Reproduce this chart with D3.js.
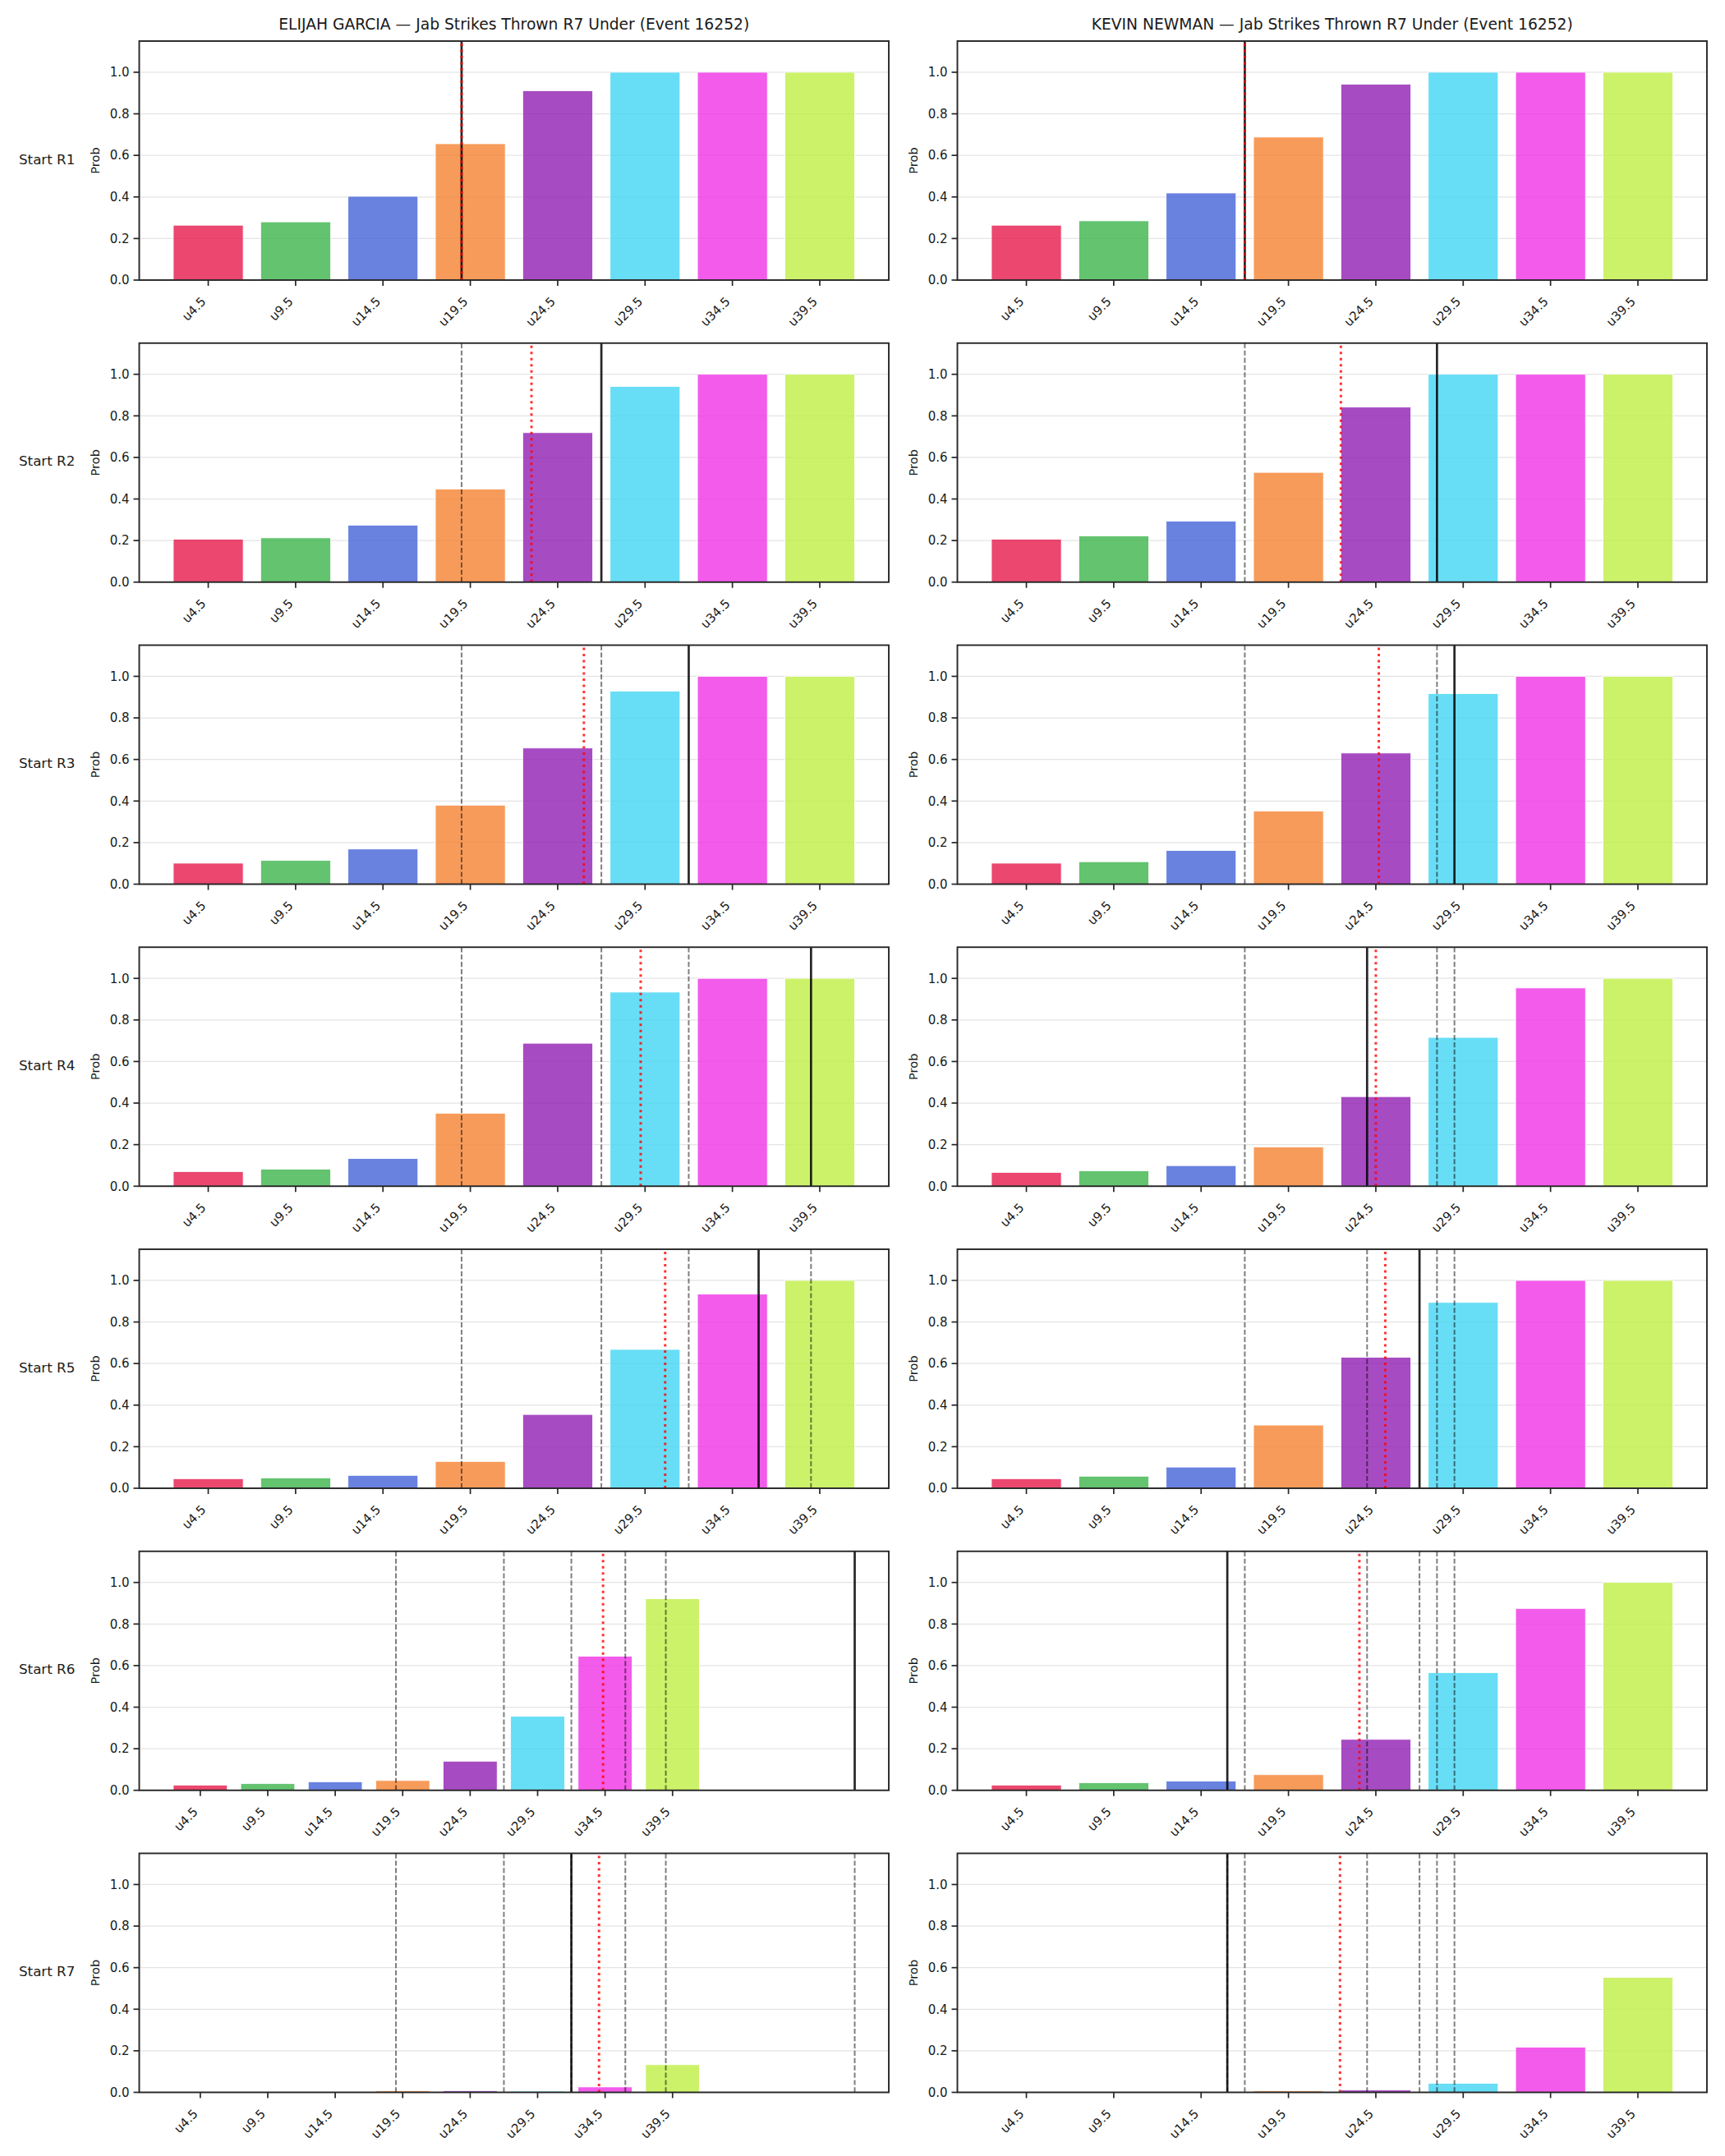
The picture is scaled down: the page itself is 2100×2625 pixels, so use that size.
<!DOCTYPE html>
<html>
<head>
<meta charset="utf-8">
<script src="https://cdn.jsdelivr.net/npm/d3@7"></script>
<style>
  body { margin: 0; background: #fff; }
  svg text { font-family: "DejaVu Sans", sans-serif; fill: #1a1a1a; }
</style>
</head>
<body>
<svg id="chart" width="2100" height="2625"></svg>
<script>
// ── Data ──
const categories = ["u4.5", "u9.5", "u14.5", "u19.5", "u24.5", "u29.5", "u34.5", "u39.5"];
const thresholds = [4.5, 9.5, 14.5, 19.5, 24.5, 29.5, 34.5, 39.5];
const rounds = ["R1", "R2", "R3", "R4", "R5", "R6", "R7"];
const barColors = ["#e6194b", "#3cb44b", "#4363d8", "#f58231", "#911eb4", "#42d4f4", "#f032e6", "#bfef45"];

// P(under) per threshold, one row per starting round
const garciaProbs = [
  [0.264, 0.280, 0.403, 0.656, 0.911, 1.0, 1.0, 1.0],
  [0.206, 0.213, 0.274, 0.448, 0.719, 0.941, 1.0, 1.0],
  [0.101, 0.114, 0.169, 0.380, 0.655, 0.929, 1.0, 1.0],
  [0.070, 0.082, 0.133, 0.351, 0.688, 0.934, 1.0, 1.0],
  [0.046, 0.050, 0.062, 0.129, 0.355, 0.668, 0.934, 1.0],
  [0.025, 0.032, 0.041, 0.047, 0.140, 0.356, 0.645, 0.922],
  [0.0005, 0.001, 0.003, 0.007, 0.007, 0.006, 0.026, 0.133],
];
const newmanProbs = [
  [0.264, 0.285, 0.419, 0.688, 0.942, 1.0, 1.0, 1.0],
  [0.206, 0.222, 0.293, 0.528, 0.842, 1.0, 1.0, 1.0],
  [0.101, 0.108, 0.162, 0.352, 0.631, 0.917, 1.0, 1.0],
  [0.066, 0.074, 0.099, 0.189, 0.431, 0.716, 0.954, 1.0],
  [0.046, 0.058, 0.102, 0.304, 0.630, 0.894, 1.0, 1.0],
  [0.025, 0.036, 0.044, 0.075, 0.245, 0.566, 0.875, 1.0],
  [0.0005, 0.002, 0.003, 0.007, 0.011, 0.043, 0.217, 0.553],
];

// Strike counts marked by the vertical lines (solid = actual, dotted = projected)
const garciaActual = [19, 27, 32, 39, 36, 53, 32];
const garciaProjected = [19, 23, 26, 29.25, 30.65, 34.35, 34.05];
const newmanActual = [17, 28, 29, 24, 27, 16, 16];
const newmanProjected = [17, 22.5, 24.67, 24.5, 25.04, 23.56, 22.45];

const fighters = [
  { name: "ELIJAH GARCIA", probs: garciaProbs, actual: garciaActual, projected: garciaProjected },
  { name: "KEVIN NEWMAN", probs: newmanProbs, actual: newmanActual, projected: newmanProjected },
];

// ── Layout ──
const colLeft = [169.5, 1165.5];
const axisWidth = 912.5;
const firstTop = 50;
const rowStep = 367.75;
const axisHeight = 291;

const svg = d3.select("#chart");

// strike count -> category position (linear through thresholds, extrapolated)
const countToPos = d3.scaleLinear()
  .domain([thresholds[0], thresholds[thresholds.length - 1]])
  .range([0, categories.length - 1]);

fighters.forEach((fighter, col) => {
  const left = colLeft[col];
  const right = left + axisWidth;

  svg.append("text")
    .attr("x", (left + right) / 2)
    .attr("y", firstTop - 14)
    .attr("text-anchor", "middle")
    .attr("font-size", 18.7)
    .text(`${fighter.name} — Jab Strikes Thrown R7 Under (Event 16252)`);

  rounds.forEach((round, row) => {
    const top = firstTop + row * rowStep;
    const bottom = top + axisHeight;
    const values = fighter.probs[row];

    const dashedPos = fighter.actual.slice(0, row).map((c) => countToPos(c));
    const actualPos = countToPos(fighter.actual[row]);
    const projectedPos = countToPos(fighter.projected[row]);

    // autoscale like the original: bars + vertical lines, 5% margins
    const lo = d3.min([-0.4, actualPos, projectedPos, ...dashedPos]);
    const hi = d3.max([categories.length - 0.6, actualPos, projectedPos, ...dashedPos]);
    const pad = (hi - lo) * 0.05;

    const xScale = d3.scaleLinear().domain([lo - pad, hi + pad]).range([left, right]);
    const yScale = d3.scaleLinear().domain([0, 1.15]).range([bottom, top]);
    const yTicks = d3.range(0, 1.01, 0.2);

    const g = svg.append("g");

    // gridlines
    g.selectAll(".grid")
      .data(yTicks)
      .join("line")
      .attr("x1", left).attr("x2", right)
      .attr("y1", (d) => yScale(d)).attr("y2", (d) => yScale(d))
      .attr("stroke", "#e4e4e4")
      .attr("stroke-width", 1.3);

    // bars
    g.selectAll(".bar")
      .data(values)
      .join("rect")
      .attr("x", (d, i) => xScale(i - 0.4))
      .attr("width", (d, i) => xScale(i + 0.4) - xScale(i - 0.4))
      .attr("y", (d) => yScale(d))
      .attr("height", (d) => yScale(0) - yScale(d))
      .attr("fill", (d, i) => barColors[i])
      .attr("fill-opacity", 0.8)
      .attr("stroke", "#fff")
      .attr("stroke-width", 0.8);

    // earlier rounds' actual counts
    g.selectAll(".prev")
      .data(dashedPos)
      .join("line")
      .attr("x1", (d) => xScale(d)).attr("x2", (d) => xScale(d))
      .attr("y1", top).attr("y2", bottom)
      .attr("stroke", "#000")
      .attr("stroke-opacity", 0.5)
      .attr("stroke-width", 2)
      .attr("stroke-dasharray", "6.2,2.7");

    g.append("line")
      .attr("x1", xScale(actualPos)).attr("x2", xScale(actualPos))
      .attr("y1", top).attr("y2", bottom)
      .attr("stroke", "#000")
      .attr("stroke-opacity", 0.85)
      .attr("stroke-width", 2.7);

    g.append("line")
      .attr("x1", xScale(projectedPos)).attr("x2", xScale(projectedPos))
      .attr("y1", top + 3).attr("y2", bottom)
      .attr("stroke", "#ff0000")
      .attr("stroke-opacity", 0.8)
      .attr("stroke-width", 3)
      .attr("stroke-dasharray", "3,4.5");

    // frame
    g.append("rect")
      .attr("x", left).attr("y", top)
      .attr("width", axisWidth).attr("height", axisHeight)
      .attr("fill", "none")
      .attr("stroke", "#262626")
      .attr("stroke-width", 1.9);

    // y axis ticks + labels
    g.selectAll(".ytick")
      .data(yTicks)
      .join("line")
      .attr("x1", left - 7).attr("x2", left)
      .attr("y1", (d) => yScale(d)).attr("y2", (d) => yScale(d))
      .attr("stroke", "#262626")
      .attr("stroke-width", 1.7);

    g.selectAll(".ylabel")
      .data(yTicks)
      .join("text")
      .attr("x", left - 12)
      .attr("y", (d) => yScale(d) + 5.3)
      .attr("text-anchor", "end")
      .attr("font-size", 15)
      .text((d) => d3.format(".1f")(d));

    // x axis ticks + rotated labels
    g.selectAll(".xtick")
      .data(categories)
      .join("line")
      .attr("x1", (d, i) => xScale(i)).attr("x2", (d, i) => xScale(i))
      .attr("y1", bottom).attr("y2", bottom + 7)
      .attr("stroke", "#262626")
      .attr("stroke-width", 1.7);

    g.selectAll(".xlabel")
      .data(categories)
      .join("text")
      .attr("transform", (d, i) => `translate(${xScale(i) - 2},${bottom + 27}) rotate(-45)`)
      .attr("text-anchor", "end")
      .attr("font-size", 15)
      .text((d) => d);

    g.append("text")
      .attr("transform", `translate(${left - 49},${(top + bottom) / 2}) rotate(-90)`)
      .attr("text-anchor", "middle")
      .attr("font-size", 14.6)
      .text("Prob");

    if (col === 0) {
      g.append("text")
        .attr("x", 23)
        .attr("y", (top + bottom) / 2 + 4)
        .attr("font-size", 16.7)
        .text(`Start ${round}`);
    }
  });
});
</script>
</body>
</html>
